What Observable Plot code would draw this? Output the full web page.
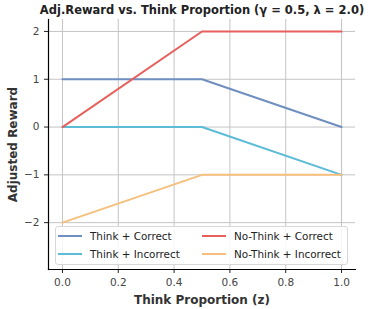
<!DOCTYPE html>
<html><head><meta charset="utf-8">
<script src="https://cdn.jsdelivr.net/npm/d3@7"></script>
<script src="https://cdn.jsdelivr.net/npm/@observablehq/plot@0.6"></script>
<style>
body{margin:0;background:#fff;}
#wrap{position:relative;width:373px;height:309px;font-family:"DejaVu Sans",sans-serif;}
#title{position:absolute;left:0;top:0;}
#legend{position:absolute;left:55px;top:226px;width:293px;height:39px;border:1px solid #d8d8d8;border-radius:3px;background:rgba(255,255,255,0.85);box-sizing:border-box;font:10.4px "DejaVu Sans",sans-serif;color:#222;}
.it{position:absolute;display:flex;align-items:center;white-space:nowrap;}
.sw{width:24px;height:2px;margin-right:8px;}
</style></head><body>
<div id="wrap"><div id="chart"></div><svg id="title" width="373" height="20"></svg><div id="legend"></div></div>
<script>
const zValues = [0, 0.5, 1];
const seriesNames = ["Think + Correct", "Think + Incorrect", "No-Think + Correct", "No-Think + Incorrect"];
const thinkCorrect = [1, 1, 0];
const thinkIncorrect = [0, 0, -1];
const noThinkCorrect = [0, 2, 2];
const noThinkIncorrect = [-2, -1, -1];
const colors = ["#6f8fc1", "#5bbcd8", "#e8605c", "#f5bf7c"];
const xTicks = [0, 0.2, 0.4, 0.6, 0.8, 1.0];
const yTicks = [-2, -1, 0, 1, 2];
const titleText = "Adj.Reward vs. Think Proportion (γ = 0.5, λ = 2.0)";

const allSeries = [thinkCorrect, thinkIncorrect, noThinkCorrect, noThinkIncorrect];
const data = [];
allSeries.forEach((vals, i) => vals.forEach((v, j) => data.push({z: zValues[j], r: v, s: seriesNames[i]})));
const yFmt = d => d < 0 ? "\u2212" + Math.abs(d) : String(d);

const chart = Plot.plot({
  width: 373, height: 309,
  marginLeft: 48, marginRight: 18, marginTop: 19, marginBottom: 40,
  style: {fontFamily: "DejaVu Sans, sans-serif", fontSize: "10.5px", color: "#444"},
  x: {domain: [-0.05, 1.05]},
  y: {domain: [-2.98, 2.25]},
  color: {domain: seriesNames, range: colors},
  marks: [
    Plot.gridX(xTicks, {stroke: "#c4c4c4", strokeOpacity: 1, strokeWidth: 1}),
    Plot.gridY(yTicks, {stroke: "#c4c4c4", strokeOpacity: 1, strokeWidth: 1}),
    Plot.line(data, {x: "z", y: "r", z: "s", stroke: "s", strokeWidth: 2}),
    Plot.axisX(xTicks, {tickFormat: d3.format(".1f"), tickSize: 4, stroke: "#222", fill: "#444", label: null}),
    Plot.axisY(yTicks, {tickFormat: yFmt, tickSize: 4, stroke: "#222", fill: "#444", label: null}),
    Plot.axisX({ticks: [], label: "Think Proportion (z)", labelAnchor: "center", labelArrow: "none", labelOffset: 34, fontSize: 12, fontWeight: "bold", fill: "#333"}),
    Plot.axisY({ticks: [], label: "Adjusted Reward", labelAnchor: "center", labelArrow: "none", labelOffset: 40, fontSize: 12, fontWeight: "bold", fill: "#333"}),
    Plot.frame({anchor: "left", stroke: "#000", strokeWidth: 1.2}),
    Plot.frame({anchor: "bottom", stroke: "#000", strokeWidth: 1.2})
  ]
});
document.getElementById("chart").appendChild(chart);

d3.select("#title").append("text")
  .attr("x", 202).attr("y", 14).attr("text-anchor", "middle")
  .attr("font-family", "DejaVu Sans, sans-serif").attr("font-weight", "bold")
  .attr("font-size", 11.5).attr("fill", "#222")
  .text(titleText);

const leg = document.getElementById("legend");
const pos = [[2, 2], [2, 20], [146, 2], [146, 20]];
seriesNames.forEach((n, i) => {
  const d = document.createElement("div");
  d.className = "it";
  d.style.left = pos[i][0] + "px"; d.style.top = pos[i][1] + "px";
  d.style.height = "14px";
  d.innerHTML = `<span class="sw" style="background:${colors[i]}"></span><span>${n}</span>`;
  leg.appendChild(d);
});
</script></body></html>
